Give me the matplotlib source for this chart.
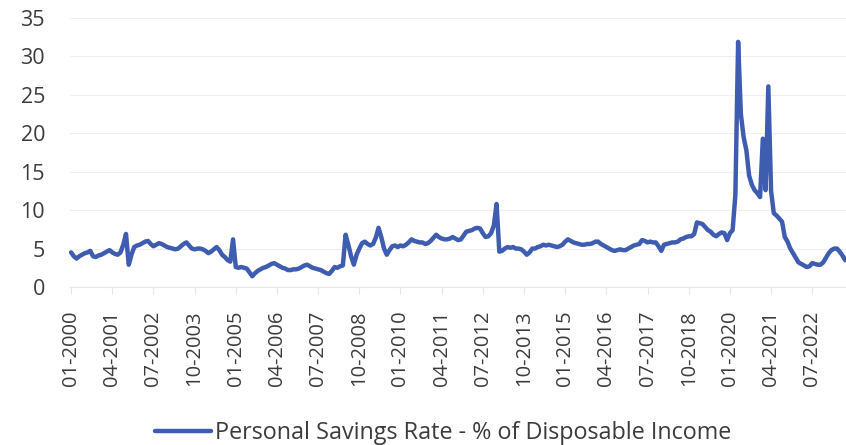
import matplotlib
matplotlib.use("Agg")
import matplotlib.pyplot as plt
import numpy as np

# Monthly personal savings rate (% of disposable income), starting 01-2000
rate_2000_2005 = [
    4.5, 4.0, 3.7, 4.0, 4.2, 4.4, 4.5, 4.7, 4.0, 3.9, 4.1, 4.2,
    4.4, 4.6, 4.8, 4.5, 4.3, 4.2, 4.5, 5.5, 6.9, 2.9, 4.2, 5.2,
    5.4, 5.5, 5.7, 5.9, 6.0, 5.6, 5.3, 5.5, 5.7, 5.6, 5.4, 5.2,
    5.1, 5.0, 4.9, 5.0, 5.3, 5.6, 5.8, 5.4, 5.0, 4.9, 5.0, 5.0,
    4.9, 4.7, 4.4, 4.6, 4.9, 5.2, 4.8, 4.2, 3.9, 3.5, 3.3, 6.2,
    2.6, 2.5, 2.6, 2.5, 2.4, 1.9, 1.4, 1.8, 2.1, 2.3, 2.5, 2.6,
]
rate_2006_2011 = [
    2.8, 3.0, 3.1, 2.9, 2.7, 2.5, 2.4, 2.2, 2.2, 2.3, 2.3, 2.4,
    2.6, 2.8, 2.9, 2.7, 2.5, 2.4, 2.3, 2.2, 2.0, 1.8, 1.7, 2.1,
    2.6, 2.5, 2.7, 2.8, 6.8, 5.5, 4.0, 2.9, 4.2, 5.0, 5.7, 5.9,
    5.6, 5.4, 5.6, 6.4, 7.7, 6.5, 5.0, 4.2, 4.8, 5.3, 5.4, 5.2,
    5.4, 5.3, 5.5, 5.8, 6.2, 6.0, 5.9, 5.8, 5.8, 5.6, 5.7, 6.0,
    6.4, 6.8, 6.5, 6.3, 6.2, 6.2, 6.3, 6.5, 6.3, 6.1, 6.2, 6.7,
]
rate_2012_2017 = [
    7.2, 7.3, 7.4, 7.6, 7.7, 7.6, 7.0, 6.5, 6.6, 7.0, 8.0, 10.8,
    4.6, 4.7, 5.0, 5.2, 5.1, 5.2, 5.0, 5.0, 4.9, 4.6, 4.2, 4.5,
    5.0, 5.0, 5.2, 5.3, 5.5, 5.4, 5.5, 5.4, 5.3, 5.2, 5.3, 5.5,
    5.9, 6.2, 6.0, 5.8, 5.7, 5.6, 5.5, 5.5, 5.6, 5.6, 5.7, 5.9,
    5.9, 5.6, 5.4, 5.2, 5.0, 4.8, 4.7, 4.8, 4.9, 4.8, 4.8, 5.0,
    5.2, 5.4, 5.5, 5.6, 6.1, 6.0, 5.8, 5.9, 5.8, 5.8, 5.3, 4.7,
]
rate_2018_2023 = [
    5.5, 5.6, 5.7, 5.8, 5.8, 5.9, 6.2, 6.3, 6.5, 6.6, 6.6, 6.9,
    8.4, 8.3, 8.2, 7.8, 7.4, 7.2, 6.8, 6.6, 6.9, 7.1, 7.0, 6.1,
    7.0, 7.4, 12.0, 31.9, 22.5, 19.5, 17.8, 14.5, 13.3, 12.6, 12.2, 11.7,
    19.3, 12.6, 26.1, 12.5, 9.6, 9.3, 8.9, 8.5, 6.5, 5.9, 5.0, 4.4,
    3.8, 3.2, 3.0, 2.8, 2.6, 2.7, 3.1, 3.0, 2.9, 2.9, 3.2, 3.8,
    4.4, 4.8, 5.0, 5.0, 4.6, 4.1, 3.5,
]

tick_labels = [
    "01-2000", "04-2001", "07-2002", "10-2003", "01-2005", "04-2006",
    "07-2007", "10-2008", "01-2010", "04-2011", "07-2012", "10-2013",
    "01-2015", "04-2016", "07-2017", "10-2018", "01-2020", "04-2021",
    "07-2022",
]
y_ticks = [0, 5, 10, 15, 20, 25, 30, 35]
series_name = "Personal Savings Rate - % of Disposable Income"

rates = rate_2000_2005 + rate_2006_2011 + rate_2012_2017 + rate_2018_2023
months = np.arange(len(rates))


def month_index(label):
    mm, yyyy = label.split("-")
    return (int(yyyy) - 2000) * 12 + int(mm) - 1


tick_pos = [month_index(t) for t in tick_labels]

plt.rcParams["font.family"] = ["Open Sans", "DejaVu Sans"]
text_color = "#3c3c3c"
line_color = "#3e5cb0"

fig = plt.figure(figsize=(8.46, 4.45), dpi=100)
ax = fig.add_axes([70 / 846, 1 - 287 / 445, 1 - 70 / 846, (287 - 18) / 445])

ax.plot(months, rates, color=line_color, lw=3.2, solid_joinstyle="round",
        solid_capstyle="round", label=series_name, clip_on=False)

ax.set_xlim(-0.4, 282.3)
ax.set_ylim(0, 35)
ax.set_yticks(y_ticks)
ax.set_yticklabels([str(v) for v in y_ticks])
ax.set_xticks(tick_pos)
ax.set_xticklabels(tick_labels, rotation=90)

ax.grid(axis="y", color="#efefef", lw=0.8)
ax.set_axisbelow(True)
for side in ("top", "right", "left"):
    ax.spines[side].set_visible(False)
ax.spines["bottom"].set_color("#e6e6e6")
ax.spines["bottom"].set_linewidth(0.8)

ax.tick_params(axis="y", length=0, pad=18, labelsize=15.5, labelcolor=text_color)
ax.tick_params(axis="x", length=5, width=0.8, color="#e6e6e6", pad=12,
               labelsize=14.5, labelcolor=text_color)

leg = fig.legend(loc="center", bbox_to_anchor=(0.5236, 0.027), frameon=False,
                 fontsize=16.8, handlelength=2.4, handletextpad=0.15)
for t in leg.get_texts():
    t.set_color(text_color)

fig.savefig("out.png", dpi=100)
